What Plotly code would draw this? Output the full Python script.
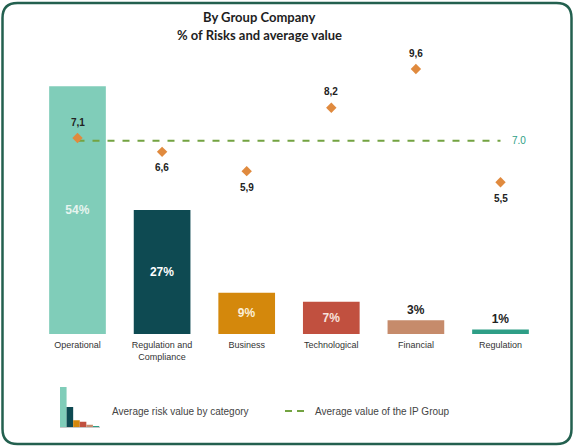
import plotly.graph_objects as go

# Risk categories and their data
categories = ["Operational", "Regulation and<br>Compliance", "Business",
              "Technological", "Financial", "Regulation"]
risk_share = [54, 27, 9, 7, 3, 1]            # % of risks
avg_value = [7.1, 6.6, 5.9, 8.2, 9.6, 5.5]   # average risk value by category
group_avg = 7.0                              # average value of the IP Group

bar_colors = ["#80CDB9", "#0E4A52", "#D4880C", "#C1503F", "#C68B6B", "#2E9E86"]
share_text_colors = ["#E6F4EF", "#FFFFFF", "#FBEFD8", "#F8E2DC", "#222222", "#222222"]
share_text_pos = ["inside", "inside", "inside", "inside", "outside", "outside"]
value_above = [True, False, False, True, True, False]

share_labels = [f"{v}%" for v in risk_share]
value_labels = [f"{v:.1f}".replace(".", ",") for v in avg_value]

W, H = 578, 446
GREEN = "#73A341"
ORANGE = "#E08A3E"
LABEL_FONT = "Liberation Sans"


def px(x):
    return x / W


def py(y):
    return 1 - y / H


fig = go.Figure()

# Main bars: share of risks
fig.add_trace(go.Bar(
    x=categories, y=risk_share, width=0.67,
    marker=dict(color=bar_colors, line=dict(width=0)),
    text=share_labels, textposition=share_text_pos,
    insidetextanchor="middle", constraintext="none", cliponaxis=False,
    textfont=dict(family=LABEL_FONT, size=12, color=share_text_colors, weight="bold"),
    xaxis="x", yaxis="y", showlegend=False, hoverinfo="skip",
))

# Group average dashed line
fig.add_trace(go.Scatter(
    x=categories, y=[group_avg] * len(categories),
    mode="lines",
    line=dict(color=GREEN, width=2, dash="7px,8px"),
    xaxis="x", yaxis="y2", showlegend=False, hoverinfo="skip", cliponaxis=False,
))

# Average risk value markers
fig.add_trace(go.Scatter(
    x=categories, y=avg_value, mode="markers",
    marker=dict(symbol="diamond", size=8, color=ORANGE),
    xaxis="x", yaxis="y2", showlegend=False, hoverinfo="skip", cliponaxis=False,
))

# Small icon chart used in the legend
fig.add_trace(go.Bar(
    x=list(range(len(risk_share))), y=risk_share, width=1.0,
    marker=dict(color=bar_colors, line=dict(width=0)),
    xaxis="x3", yaxis="y3", showlegend=False, hoverinfo="skip",
))

annotations = []
for cat, val, lab, up in zip(categories, avg_value, value_labels, value_above):
    annotations.append(dict(
        x=cat, y=val, xref="x", yref="y2", text=lab, showarrow=False,
        yanchor="middle", yshift=16 if up else -16,
        font=dict(family=LABEL_FONT, size=10, color="#222222", weight="bold"),
    ))

# Group average value label at the end of the dashed line
annotations.append(dict(
    x=categories[-1], y=group_avg, xref="x", yref="y2", text=f"{group_avg:.1f}",
    showarrow=False, xanchor="center", yanchor="middle", xshift=18,
    font=dict(family=LABEL_FONT, size=10, color="#2E9E86"),
))

annotations += [
    dict(x=px(259), y=py(17), xref="paper", yref="paper", text="<b>By Group Company</b>",
         showarrow=False, yanchor="middle", font=dict(family="Lato", size=13, color="#1E1E1E")),
    dict(x=px(259), y=py(35), xref="paper", yref="paper", text="<b>% of Risks and average value</b>",
         showarrow=False, yanchor="middle", font=dict(family="Lato", size=13, color="#1E1E1E")),
    dict(x=px(110), y=py(411), xref="paper", yref="paper", xanchor="left", yanchor="middle",
         text="Average risk value by category", showarrow=False,
         font=dict(family=LABEL_FONT, size=10, color="#444444")),
    dict(x=px(313), y=py(411), xref="paper", yref="paper", xanchor="left", yanchor="middle",
         text="Average value of the IP Group", showarrow=False,
         font=dict(family=LABEL_FONT, size=10, color="#444444")),
]

# Rounded frame around the whole chart
x0, x1, y0, y1, r = 2.5, 571.5, 3, 444, 15
rx, ry = r / W, r / H
X0, X1, Y0, Y1 = px(x0), px(x1), py(y0), py(y1)
frame = (f"M {X0 + rx},{Y0} L {X1 - rx},{Y0} Q {X1},{Y0} {X1},{Y0 - ry} "
         f"L {X1},{Y1 + ry} Q {X1},{Y1} {X1 - rx},{Y1} "
         f"L {X0 + rx},{Y1} Q {X0},{Y1} {X0},{Y1 + ry} "
         f"L {X0},{Y0 - ry} Q {X0},{Y0} {X0 + rx},{Y0} Z")

shapes = [
    dict(type="path", path=frame, xref="paper", yref="paper",
         line=dict(color="#23604F", width=2.5), fillcolor="rgba(0,0,0,0)", layer="above"),
    dict(type="line", xref="paper", yref="paper", x0=px(285), x1=px(306), y0=py(411), y1=py(411),
         line=dict(color=GREEN, width=2, dash="7px,5px")),
]

plot_top, plot_bottom = 60, 334
plot_h = plot_bottom - plot_top

fig.update_layout(
    width=W, height=H,
    margin=dict(l=0, r=0, t=0, b=0),
    paper_bgcolor="white", plot_bgcolor="white",
    annotations=annotations, shapes=shapes,
    xaxis=dict(domain=[px(35.2), px(542.8)], range=[-0.5, 5.5], showgrid=False,
               zeroline=False, showline=False, ticks="", anchor="y",
               ticklabelstandoff=4,
               tickfont=dict(family=LABEL_FONT, size=9, color="#333333")),
    yaxis=dict(domain=[py(plot_bottom), py(plot_top)], range=[0, plot_h / 4.59],
               visible=False, showgrid=False, zeroline=False),
    yaxis2=dict(domain=[py(plot_bottom), py(plot_top)], range=[0, plot_h / 27.6],
                overlaying="y", visible=False, showgrid=False, zeroline=False),
    xaxis3=dict(domain=[px(60), px(99.5)], range=[-0.5, 5.5], anchor="y3",
                showticklabels=False, showgrid=False, zeroline=False, ticks="",
                showline=True, linecolor="#C8C8C8", linewidth=1),
    yaxis3=dict(domain=[py(427), py(387)], range=[0, 54], anchor="x3",
                visible=False, showgrid=False, zeroline=False),
)

fig.write_html("out.html")
